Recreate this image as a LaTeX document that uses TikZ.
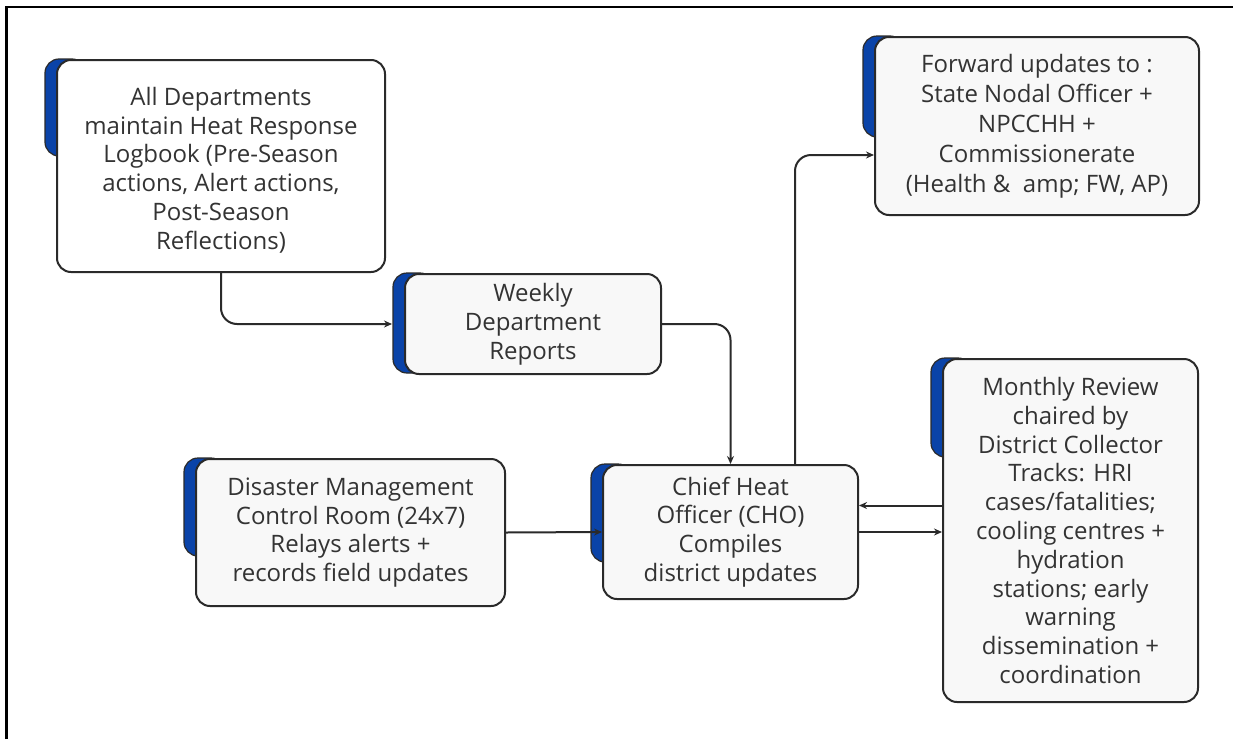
\documentclass[tikz,border=0pt]{standalone}
\usepackage{fontspec}
\setmainfont{Open Sans}
\usetikzlibrary{arrows.meta,backgrounds}
\definecolor{tabblue}{HTML}{0A43A8}
\definecolor{edgegray}{HTML}{2A2A2A}
\definecolor{inkgray}{HTML}{333333}
\definecolor{cardfill}{HTML}{F8F8F8}
\begin{document}
\begin{tikzpicture}[x=1pt,y=-1pt,
  card/.style={draw=edgegray, line width=2pt, rounded corners=14pt, fill=cardfill,
    text=inkgray, align=center, inner sep=0pt,
    font=\fontsize{24}{28.8}\selectfont},
  tabstrip/.style={draw=edgegray, line width=1.2pt, fill=tabblue, rounded corners=14pt},
  link/.style={draw=edgegray, line width=2pt, rounded corners=16pt,
    -{Stealth[length=8pt,width=7pt]}},
  frameline/.style={draw=black, line width=2.5pt}]
\useasboundingbox (0,0) rectangle (1233,739);
\begin{scope}[on background layer]
  \fill[white] (0,0) rectangle (1233,739);
\end{scope}

% page frame (left and top rules)
\draw[frameline] (6.5,739) -- (6.5,7) -- (1233,7);

% cards
\node[card, fill=white, minimum width=328pt, minimum height=212pt] (logbook) at (221,166) {};
\node[text=inkgray, align=center, font=\fontsize{24}{28.8}\selectfont, inner sep=0pt] (logbooktext) at (221,170)
  {All Departments\\maintain Heat Response\\Logbook (Pre-Season\\actions, Alert actions,\\Post-Season\\Reflections)};
\node[card, minimum width=256pt, minimum height=100pt] (weekly) at (533,324)
  {Weekly\\Department\\Reports};
\node[card, minimum width=324pt, minimum height=178pt, font=\fontsize{24}{30}\selectfont] (forward) at (1037,126)
  {Forward updates to :\\State Nodal Officer +\\NPCCHH +\\Commissionerate\\(Health \&\ \ amp; FW, AP)};
\node[card, minimum width=309pt, minimum height=147pt] (control) at (350.5,532.5)
  {Disaster Management\\Control Room (24x7)\\Relays alerts +\\records field updates};
\node[card, minimum width=255pt, minimum height=134pt] (cho) at (730.5,532)
  {Chief Heat\\Officer (CHO)\\Compiles\\district updates};
\node[card, minimum width=255pt, minimum height=343pt] (monthly) at (1070.5,530.5)
  {Monthly Review\\chaired by\\District Collector\\Tracks: HRI\\cases/fatalities;\\cooling centres +\\hydration\\stations; early\\warning\\dissemination +\\coordination};

% blue tabs peeking out behind the cards
\begin{scope}[on background layer]
  \foreach \n/\h in {logbook/97, weekly/100, forward/101, control/98, cho/98, monthly/99}{
    \path[tabstrip] ([xshift=-11pt]\n.north west) rectangle ([xshift=30pt,yshift=-\h pt]\n.north west);
  }
\end{scope}

% connectors
\draw[link] (logbook.south) |- ([xshift=-12pt]weekly.west);
\draw[link] (weekly.east) -| (cho.north);
\draw[link] ([xshift=64.5pt]cho.north) |- ([yshift=-29pt]forward.west);
\draw[link] (control.east) -- (cho.west);
\draw[link] ([yshift=25pt]monthly.west) -- ([yshift=25pt]monthly.west -| cho.east);
\draw[link] (cho.east) -- (cho.east -| monthly.west);
\end{tikzpicture}
\end{document}
